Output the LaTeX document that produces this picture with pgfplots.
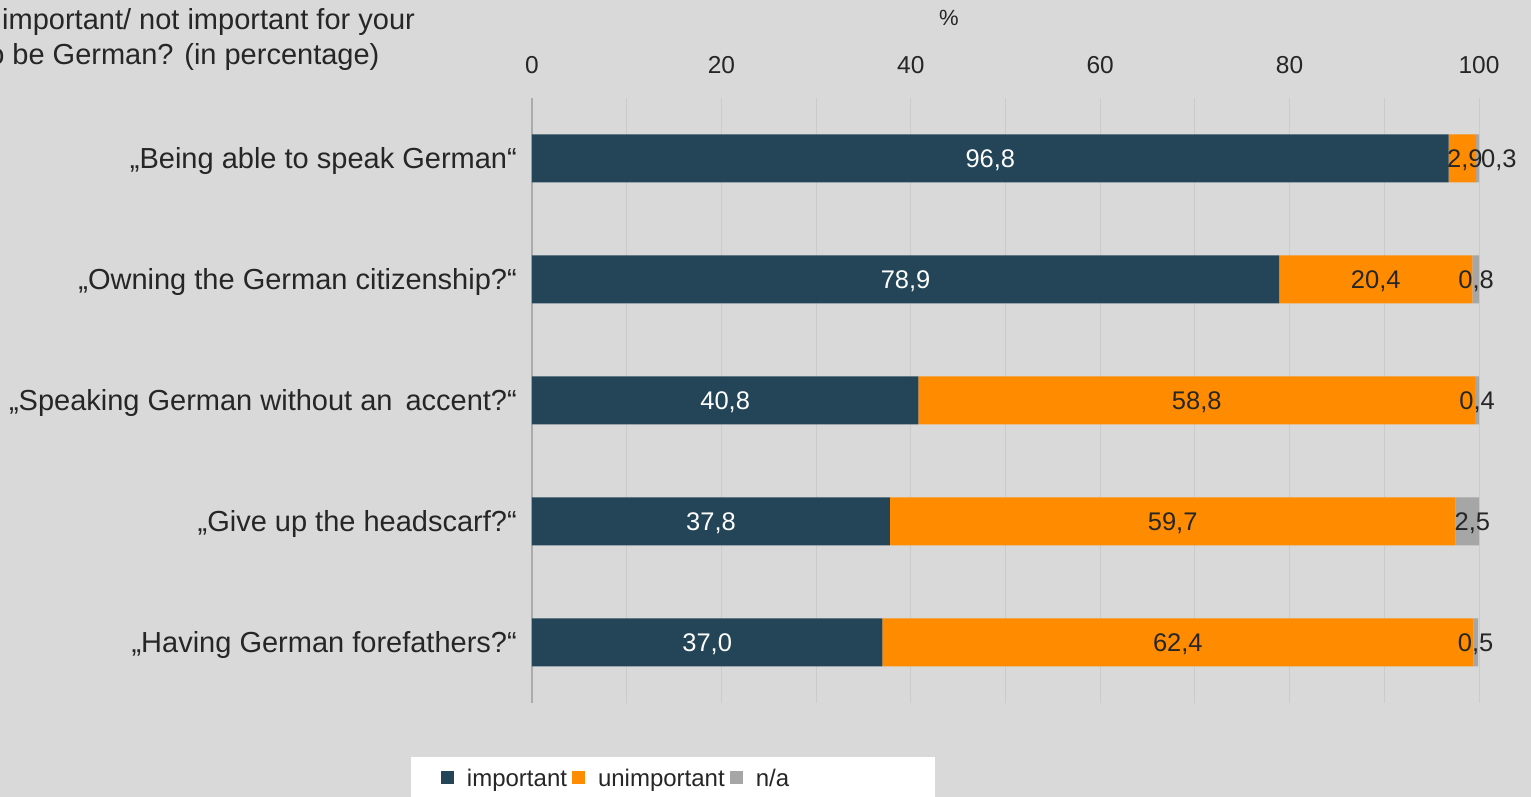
\documentclass[border=0pt]{standalone}
\usepackage{pgfplots}
\pgfplotsset{compat=1.18}
\usepackage{fontspec}
\setmainfont{Liberation Sans}
\definecolor{bg}{HTML}{D9D9D9}
\definecolor{imp}{HTML}{234557}
\definecolor{unimp}{HTML}{FF8C00}
\definecolor{na}{HTML}{A6A6A6}
\definecolor{txt}{HTML}{262626}
\definecolor{gridc}{HTML}{CBCBCB}
\definecolor{axc}{HTML}{ABABAB}
\begin{document}
\begin{tikzpicture}[x=1pt,y=1pt]
\useasboundingbox (0,0) rectangle (1531,797);
\fill[bg] (0,0) rectangle (1531,797);
\fill[white] (411,-5) rectangle (935,40);
\node[anchor=base west, inner sep=0pt, font=\fontsize{29}{33}\selectfont, text=txt] at (2,767) {important/ not important for your};
\node[anchor=base west, inner sep=0pt, font=\fontsize{29}{33}\selectfont, text=txt] at (-20,732) {to be German? (in percentage)};
\node[font=\fontsize{22}{26}\selectfont, text=txt] at (949,779) {\%};
\begin{axis}[
  at={(532pt,94pt)}, anchor=south west, scale only axis,
  width=947pt, height=605pt,
  xbar stacked, bar width=48pt,
  xmin=0, xmax=100, ymin=-0.5, ymax=4.5,
  axis line style={draw=none},
  xtick={20,40,...,100}, minor xtick={10,30,...,90},
  extra x ticks={0},
  extra x tick style={grid style={draw=axc, line width=1.5pt}},
  xmajorgrids, xminorgrids,
  grid style={draw=gridc, line width=1pt},
  minor grid style={draw=gridc, line width=1pt},
  major tick length=0pt, minor tick length=0pt,
  xticklabel pos=upper,
  /pgf/number format/assume math mode=true,
  xticklabel style={anchor=base, inner sep=0pt, yshift=24pt, font=\fontsize{24.5}{28}\selectfont, text=txt},
  ytick={0,...,4},
  yticklabels={{„Having German forefathers?“},{„Give up the headscarf?“},{„Speaking German without an\ \,accent?“},{„Owning the German citizenship?“},{„Being able to speak German“}},
  yticklabel style={anchor=east, inner sep=0pt, xshift=-15pt, yshift=-3pt, font=\fontsize{29}{33}\selectfont, text=txt},
  legend image code/.code={\fill[#1] (0pt,-5pt) rectangle (13pt,8pt);},
  legend columns=-1,
  legend cell align=left,
  legend style={at={(-0.0961,-0.1256)}, anchor=west, draw=none, fill=none, inner sep=0pt, outer sep=0pt,
    font=\fontsize{24}{28}\selectfont, text=txt,
    nodes={inner sep=0pt},
    /tikz/every odd column/.style={column sep=13pt},
    /tikz/every even column/.style={column sep=5pt}},
]
\addplot[fill=imp, draw=none] coordinates {(37.0,0) (37.8,1) (40.8,2) (78.9,3) (96.8,4)};
\addplot[fill=unimp, draw=none] coordinates {(62.4,0) (59.7,1) (58.8,2) (20.4,3) (2.9,4)};
\addplot[fill=na, draw=none] coordinates {(0.5,0) (2.5,1) (0.4,2) (0.8,3) (0.3,4)};
\legend{important, unimportant, n/a}
\end{axis}
\begin{axis}[
  at={(532pt,94pt)}, anchor=south west, scale only axis,
  width=947pt, height=605pt,
  xmin=0, xmax=100, ymin=-0.5, ymax=4.5,
  hide axis, clip=false,
  nodes near coords, point meta=explicit symbolic,
  nodes near coords style={anchor=center, yshift=-2pt, font=\fontsize{25.5}{30}\selectfont},
]
\addplot[draw=none, mark=none, nodes near coords style={text=white}] coordinates {
  (18.5,0) [37{,}0] (18.9,1) [37{,}8] (20.4,2) [40{,}8] (39.45,3) [78{,}9] (48.4,4) [96{,}8]};
\addplot[draw=none, mark=none, nodes near coords style={text=txt}] coordinates {
  (68.2,0) [62{,}4] (67.65,1) [59{,}7] (70.2,2) [58{,}8] (89.1,3) [20{,}4] (98.5,4) [2{,}9]};
\addplot[draw=none, mark=none, nodes near coords style={text=txt}] coordinates {
  (99.65,0) [0{,}5] (99.3,1) [2{,}5] (99.8,2) [0{,}4] (99.7,3) [0{,}8] (102.1,4) [0{,}3]};
\end{axis}
\end{tikzpicture}
\end{document}
